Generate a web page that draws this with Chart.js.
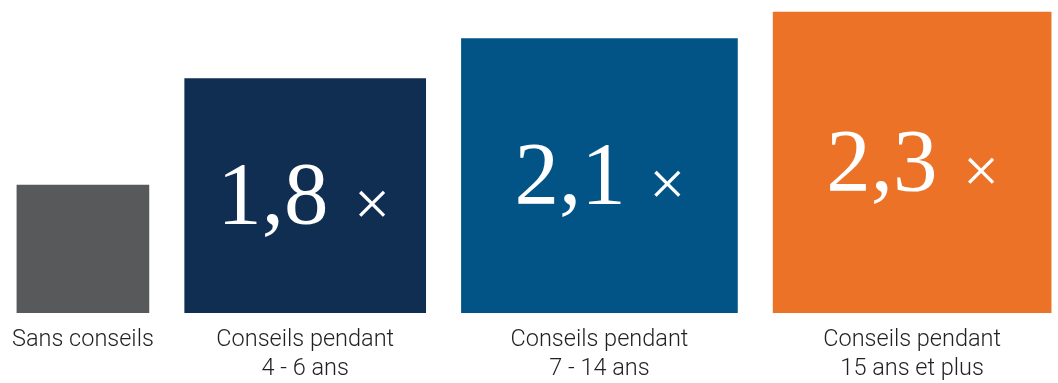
<!DOCTYPE html>
<html lang="fr">
<head>
<meta charset="utf-8">
<title>Conseils</title>
<script src="https://cdn.jsdelivr.net/npm/chart.js@4/dist/chart.umd.min.js"></script>
<style>
  html, body { margin: 0; padding: 0; background: #fff; }
  #boite { width: 1058px; height: 383px; position: relative; }
</style>
</head>
<body>
<div id="boite"><canvas id="grafik"></canvas></div>
<script>
const categories = ['Sans conseils', ['Conseils pendant', '4 - 6 ans'], ['Conseils pendant', '7 - 14 ans'], ['Conseils pendant', '15 ans et plus']];
const multiples = [1, 1.8, 2.1, 2.3];
const couleurs = ['#58595b', '#102d52', '#025487', '#eb7226'];

// taille des carrés (px) et espace entre eux
const largeurs = [132, 241, 276, 278];
const ecart = 36;
const margeGauche = 16;

// l'axe x va de 0 à 1058, donc une unité = un pixel
const centres = [];
let curseur = margeGauche;
largeurs.forEach(l => { centres.push(curseur + l / 2); curseur += l + ecart; });

const etiquettes = {
    id: 'etiquettes',
    afterDatasetsDraw(chart) {
        const ctx = chart.ctx;
        chart.data.datasets.forEach((ds, i) => {
            if (i === 0) return; // barre de référence, sans multiple
            const bar = chart.getDatasetMeta(i).data[0];
            const milieu = (bar.y + bar.base) / 2;
            const nombre = multiples[i].toFixed(1).replace('.', ',');
            ctx.save();
            ctx.fillStyle = '#fff';
            ctx.textAlign = 'left';
            ctx.textBaseline = 'alphabetic';
            ctx.font = '89px "Liberation Serif", serif';
            const mN = ctx.measureText(nombre);
            const lN = mN.actualBoundingBoxLeft + mN.actualBoundingBoxRight;
            ctx.font = '64px "Liberation Serif", serif';
            const mX = ctx.measureText('×');
            const lX = mX.actualBoundingBoxLeft + mX.actualBoundingBoxRight;
            const debut = bar.x - (lN + 33 + lX) / 2;

            ctx.font = '89px "Liberation Serif", serif';
            ctx.fillText(nombre, debut + mN.actualBoundingBoxLeft, milieu + 25);
            ctx.font = '64px "Liberation Serif", serif';
            const yX = milieu + 5 + (mX.actualBoundingBoxAscent - mX.actualBoundingBoxDescent) / 2;
            ctx.fillText('×', debut + lN + 33 + mX.actualBoundingBoxLeft, yX);
            ctx.restore();
        });
    }
};

new Chart(document.getElementById('grafik'), {
    type: 'bar',
    data: {
        datasets: multiples.map((v, i) => ({
            data: [{ x: centres[i], y: v }],
            backgroundColor: couleurs[i],
            barThickness: largeurs[i],
            grouped: false
        }))
    },
    options: {
        responsive: true,
        maintainAspectRatio: false,
        animation: false,
        layout: { padding: 0 },
        plugins: { legend: { display: false }, tooltip: { enabled: false } },
        scales: {
            x: {
                type: 'linear', min: 0, max: 1058, offset: false,
                grid: { display: false, drawTicks: false },
                border: { display: false },
                afterBuildTicks: axe => { axe.ticks = centres.map(c => ({ value: c })); },
                afterFit: axe => { axe.height = 70; },
                ticks: {
                    autoSkip: false, maxRotation: 0, padding: 12,
                    color: '#231f20',
                    font: { family: 'Roboto', size: 23.5, weight: '300', lineHeight: 1.26 },
                    callback: (val, idx) => categories[idx]
                }
            },
            y: { display: false, min: 0.04, max: 2.39 }
        }
    },
    plugins: [etiquettes]
});
</script>
</body>
</html>
